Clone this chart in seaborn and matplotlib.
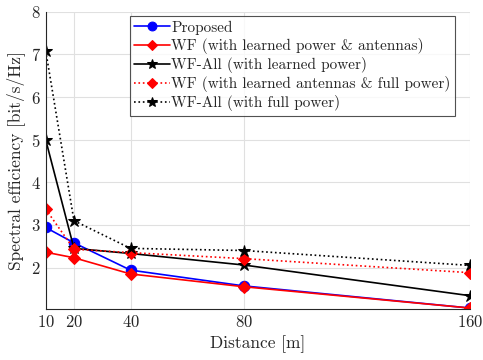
import numpy as np
import pandas as pd
import matplotlib
matplotlib.use('Agg')
import matplotlib.pyplot as plt
import seaborn as sns

# distances and spectral efficiency
distance = [10, 20, 40, 80, 160]
proposed = [2.94, 2.58, 1.94, 1.57, 1.05]
wf_learned = [2.36, 2.23, 1.85, 1.55, 1.05]
wfall_learned = [5.00, 2.45, 2.33, 2.06, 1.34]
wf_full = [3.37, 2.43, 2.35, 2.21, 1.88]
wfall_full = [7.09, 3.10, 2.45, 2.40, 2.05]

labels = ['Proposed',
          'WF (with learned power & antennas)',
          'WF-All (with learned power)',
          'WF (with learned antennas & full power)',
          'WF-All (with full power)']
series = [proposed, wf_learned, wfall_learned, wf_full, wfall_full]
colors = ['#0000ff', '#ff0000', '#000000', '#ff0000', '#000000']
markers = ['o', 'D', '*', 'D', '*']
msizes = [7.5, 6, 9, 6, 9]
styles = ['-', '-', '-', ':', ':']

sns.set_style('white')
plt.rcParams['font.family'] = 'serif'
plt.rcParams['font.serif'] = ['cmr10', 'DejaVu Serif']
plt.rcParams['mathtext.fontset'] = 'cm'
plt.rcParams['axes.formatter.use_mathtext'] = True

fig = plt.figure(figsize=(4.83, 3.6), dpi=100)
ax = fig.add_axes([0.0946, 0.142, 0.878, 0.825])

for ys, lab, c, m, ms, ls in zip(series, labels, colors, markers, msizes, styles):
    df = pd.DataFrame({'d': distance, 'se': ys})
    sns.lineplot(data=df, x='d', y='se', ax=ax, color=c, marker=m,
                 markersize=ms, linestyle=ls, linewidth=1.2,
                 markeredgecolor=c, label=lab)

ax.set_xlim(10, 160)
ax.set_ylim(1.03, 8)
ax.set_xticks(distance)
ax.set_yticks([2, 3, 4, 5, 6, 7, 8])
ax.tick_params(labelsize=12, direction='in', length=3, colors='#262626')
ax.grid(True, color='#e0e0e0', linewidth=0.8)
for s in ['top', 'right']:
    ax.spines[s].set_visible(False)
for s in ['left', 'bottom']:
    ax.spines[s].set_color('#262626')
    ax.spines[s].set_linewidth(0.8)

ax.set_xlabel('Distance [m]', fontsize=12.5, color='#262626')
ax.set_ylabel('Spectral efficiency [bit/s/Hz]', fontsize=12.5, color='#262626')

leg = ax.legend(loc='upper right', bbox_to_anchor=(455 / 483, 1 - 16 / 360),
                bbox_transform=fig.transFigure, fontsize=11, frameon=True,
                fancybox=False, edgecolor='#262626', handlelength=2.3,
                handletextpad=0.1, borderpad=0.3, labelspacing=0.2,
                borderaxespad=0, markerscale=0.85)
leg.get_frame().set_linewidth(0.8)

fig.savefig('out.png', dpi=100)
